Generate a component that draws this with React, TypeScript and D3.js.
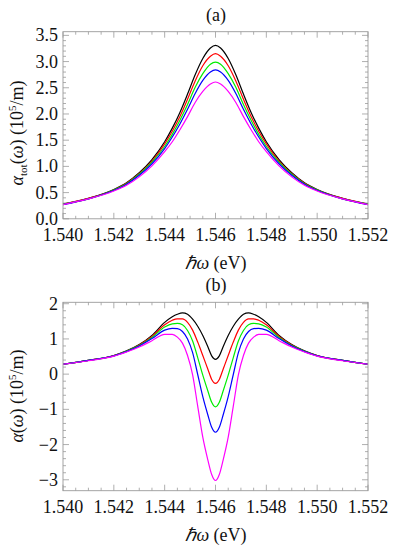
import React from 'react';
import * as d3 from 'd3';

// ---------- data ----------
const xTop = [1.540, 1.541, 1.542, 1.5425, 1.543, 1.5435, 1.544, 1.5443, 1.5446, 1.5449, 1.5452, 1.5455, 1.5458, 1.546,
  1.5462, 1.5465, 1.5468, 1.5471, 1.5474, 1.5477, 1.548, 1.5485, 1.549, 1.5495, 1.550, 1.551, 1.552];
const topBlack = [0.28, 0.39, 0.56, 0.69, 0.88, 1.13, 1.47, 1.73, 2.03, 2.38, 2.75, 3.06, 3.26, 3.31, 3.26, 3.06, 2.75, 2.38, 2.03, 1.73, 1.47, 1.13, 0.88, 0.69, 0.56, 0.39, 0.28];
const topRed = [0.28, 0.39, 0.55, 0.68, 0.86, 1.10, 1.43, 1.67, 1.95, 2.28, 2.63, 2.92, 3.10, 3.15, 3.10, 2.92, 2.63, 2.28, 1.95, 1.67, 1.43, 1.10, 0.86, 0.68, 0.55, 0.39, 0.28];
const topGreen = [0.28, 0.38, 0.55, 0.67, 0.85, 1.08, 1.38, 1.61, 1.88, 2.18, 2.51, 2.77, 2.95, 2.99, 2.95, 2.77, 2.51, 2.18, 1.88, 1.61, 1.38, 1.08, 0.85, 0.67, 0.55, 0.38, 0.28];
const topBlue = [0.27, 0.38, 0.54, 0.66, 0.83, 1.05, 1.34, 1.56, 1.81, 2.09, 2.39, 2.64, 2.80, 2.84, 2.80, 2.64, 2.39, 2.09, 1.81, 1.56, 1.34, 1.05, 0.83, 0.66, 0.54, 0.38, 0.27];
const topMagenta = [0.27, 0.38, 0.53, 0.64, 0.80, 1.01, 1.28, 1.47, 1.70, 1.95, 2.22, 2.43, 2.57, 2.61, 2.57, 2.43, 2.22, 1.95, 1.70, 1.47, 1.28, 1.01, 0.80, 0.64, 0.53, 0.38, 0.27];

const xBot = [1.540, 1.541, 1.542, 1.5425, 1.543, 1.5435, 1.544, 1.5443, 1.5445, 1.5447, 1.5449, 1.5451, 1.5453, 1.5455, 1.5457, 1.54585, 1.546,
  1.54615, 1.5463, 1.5465, 1.5467, 1.5469, 1.5471, 1.5473, 1.5475, 1.5477, 1.548, 1.5485, 1.549, 1.5495, 1.550, 1.551, 1.552];
const botBlack = [0.28, 0.39, 0.53, 0.66, 0.84, 1.10, 1.47, 1.63, 1.70, 1.74, 1.70, 1.56, 1.36, 1.10, 0.78, 0.52, 0.42, 0.52, 0.78, 1.10, 1.36, 1.56, 1.70, 1.74, 1.70, 1.63, 1.47, 1.10, 0.84, 0.66, 0.53, 0.39, 0.28];
const botRed = [0.28, 0.39, 0.53, 0.65, 0.83, 1.07, 1.40, 1.53, 1.57, 1.57, 1.47, 1.25, 0.91, 0.53, 0.14, -0.15, -0.26, -0.15, 0.14, 0.53, 0.91, 1.25, 1.47, 1.57, 1.57, 1.53, 1.40, 1.07, 0.83, 0.65, 0.53, 0.39, 0.28];
const botGreen = [0.28, 0.39, 0.52, 0.65, 0.81, 1.04, 1.34, 1.43, 1.44, 1.40, 1.24, 0.94, 0.47, -0.03, -0.48, -0.80, -0.93, -0.80, -0.48, -0.03, 0.47, 0.94, 1.24, 1.40, 1.44, 1.43, 1.34, 1.04, 0.81, 0.65, 0.52, 0.39, 0.28];
const botBlue = [0.28, 0.39, 0.52, 0.64, 0.80, 1.01, 1.25, 1.30, 1.29, 1.21, 1.00, 0.61, -0.01, -0.64, -1.16, -1.51, -1.65, -1.51, -1.16, -0.64, -0.01, 0.61, 1.00, 1.21, 1.29, 1.30, 1.25, 1.01, 0.80, 0.64, 0.52, 0.39, 0.28];
const botMagenta = [0.28, 0.38, 0.51, 0.63, 0.77, 0.95, 1.13, 1.13, 1.05, 0.88, 0.53, -0.02, -0.91, -1.79, -2.44, -2.85, -3.02, -2.85, -2.44, -1.79, -0.91, -0.02, 0.53, 0.88, 1.05, 1.13, 1.13, 0.95, 0.77, 0.63, 0.51, 0.38, 0.28];

const seriesColors = ['#000000', '#ff0000', '#00ee00', '#0000ff', '#ff00ff'];
const xTickLabels = ['1.540', '1.542', '1.544', '1.546', '1.548', '1.550', '1.552'];
const topYTickLabels = ['0.0', '0.5', '1.0', '1.5', '2.0', '2.5', '3.0', '3.5'];
const botYTickLabels = ['\u22123', '\u22122', '\u22121', '0', '1', '2'];

// ---------- layout ----------
const W = 396, H = 550;
const FX0 = 63, FX1 = 368;
const FONT = "'Liberation Serif', 'Times New Roman', serif";
const FS = 18;
const FRAME = '#9a9a9a';

type PanelProps = {
  xs: number[];
  series: number[][];
  yDomain: [number, number];
  yRange: [number, number];
  yMajor: number[];
  yLabels: string[];
  yMinorStep: number;
};

function Panel({ xs, series, yDomain, yRange, yMajor, yLabels, yMinorStep }: PanelProps) {
  const x = d3.scaleLinear().domain([1.540, 1.552]).range([FX0, FX1]);
  const y = d3.scaleLinear().domain(yDomain).range(yRange);
  const [yb, yt] = yRange;
  const xMajor = xTickLabels.map((s) => +s);
  const xMinor = d3.range(1.540, 1.55201, 0.0005).filter((v) => !xMajor.some((m) => Math.abs(m - v) < 1e-7));
  const yMinorAll = d3.range(Math.ceil(yDomain[0] / yMinorStep) * yMinorStep, yDomain[1] + 1e-9, yMinorStep);
  const yMinor = yMinorAll.filter((v) => !yMajor.some((m) => Math.abs(m - v) < 1e-7));
  const line = d3.line<number>().x((_, i) => x(xs[i])).y((d) => y(d)).curve(d3.curveMonotoneX);
  const ML = 6, mL = 3;
  return (
    <g>
      <g stroke={FRAME} strokeWidth={0.8}>
        {xMajor.map((v, i) => (
          <g key={'xM' + i}>
            <line x1={x(v)} x2={x(v)} y1={yb} y2={yb - ML} />
            <line x1={x(v)} x2={x(v)} y1={yt} y2={yt + ML} />
          </g>
        ))}
        {xMinor.map((v, i) => (
          <g key={'xm' + i}>
            <line x1={x(v)} x2={x(v)} y1={yb} y2={yb - mL} />
            <line x1={x(v)} x2={x(v)} y1={yt} y2={yt + mL} />
          </g>
        ))}
        {yMajor.map((v, i) => (
          <g key={'yM' + i}>
            <line x1={FX0} x2={FX0 + ML} y1={y(v)} y2={y(v)} />
            <line x1={FX1} x2={FX1 - ML} y1={y(v)} y2={y(v)} />
          </g>
        ))}
        {yMinor.map((v, i) => (
          <g key={'ym' + i}>
            <line x1={FX0} x2={FX0 + mL} y1={y(v)} y2={y(v)} />
            <line x1={FX1} x2={FX1 - mL} y1={y(v)} y2={y(v)} />
          </g>
        ))}
      </g>
      {series.map((s, i) => (
        <path key={'s' + i} d={line(s) || ''} fill="none" stroke={seriesColors[i]} strokeWidth={1.2} />
      ))}
      <rect x={FX0} y={yt} width={FX1 - FX0} height={yb - yt} fill="none" stroke={FRAME} strokeWidth={0.9} />
      <g style={{ fontFamily: FONT, fontSize: FS }} fill="#111">
        {xMajor.map((v, i) => (
          <text key={'xl' + i} x={x(v)} y={yb + 22} textAnchor="middle">{xTickLabels[i]}</text>
        ))}
        {yMajor.map((v, i) => (
          <text key={'yl' + i} x={FX0 - 5} y={y(v) + 6} textAnchor="end">{yLabels[i]}</text>
        ))}
      </g>
    </g>
  );
}

export default function App() {
  return (
    <svg width={W} height={H} style={{ position: 'absolute', left: 0, top: 0, background: '#fff' }}>
      <rect x={0} y={0} width={W} height={H} fill="#fff" />
      <Panel
        xs={xTop}
        series={[topBlack, topRed, topGreen, topBlue, topMagenta]}
        yDomain={[0, 3.57]}
        yRange={[218.8, 31.7]}
        yMajor={topYTickLabels.map((s) => +s)}
        yLabels={topYTickLabels}
        yMinorStep={0.1}
      />
      <Panel
        xs={xBot}
        series={[botBlack, botRed, botGreen, botBlue, botMagenta]}
        yDomain={[-3.31, 2.04]}
        yRange={[490.7, 302.3]}
        yMajor={[-3, -2, -1, 0, 1, 2]}
        yLabels={botYTickLabels}
        yMinorStep={0.2}
      />
      <g style={{ fontFamily: FONT, fontSize: FS }} fill="#111">
        <text x={216} y={21} textAnchor="middle">(a)</text>
        <text x={216} y={291} textAnchor="middle">(b)</text>
        <text x={216} y={269} textAnchor="middle">
          <tspan fontStyle="italic">ℏω</tspan> (eV)
        </text>
        <text x={216} y={541} textAnchor="middle">
          <tspan fontStyle="italic">ℏω</tspan> (eV)
        </text>
        <text transform="translate(23,133) rotate(-90)" textAnchor="middle">
          <tspan fontStyle="italic">α</tspan>
          <tspan style={{ fontSize: 11 }} dy={4}>tot</tspan>
          <tspan dy={-4}>(</tspan>
          <tspan fontStyle="italic">ω</tspan>
          <tspan>) (10</tspan>
          <tspan style={{ fontSize: 11 }} dy={-7}>5</tspan>
          <tspan dy={7}>/m)</tspan>
        </text>
        <text transform="translate(23,396) rotate(-90)" textAnchor="middle">
          <tspan fontStyle="italic">α</tspan>
          <tspan>(</tspan>
          <tspan fontStyle="italic">ω</tspan>
          <tspan>) (10</tspan>
          <tspan style={{ fontSize: 11 }} dy={-7}>5</tspan>
          <tspan dy={7}>/m)</tspan>
        </text>
      </g>
    </svg>
  );
}
